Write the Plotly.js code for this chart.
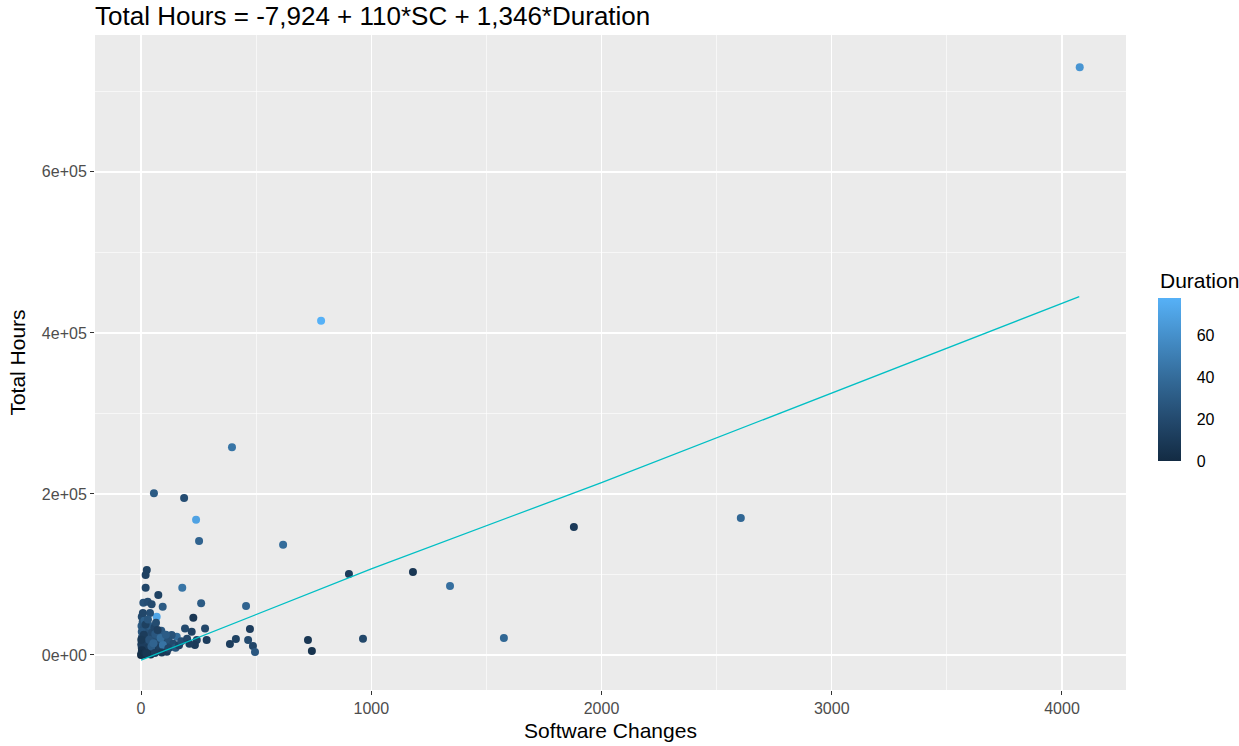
<!DOCTYPE html>
<html>
<head>
<meta charset="utf-8">
<script src="https://cdn.plot.ly/plotly-3.0.1.min.js"></script>
<style>html,body{margin:0;padding:0;background:#fff;}#chart{width:1239px;height:746px;}</style>
</head>
<body>
<div id="chart"></div>
<script>
// Software changes (SC), Total hours, Duration for each project
const softwareChanges = [
  4077, 782, 395, 56, 187, 239, 252, 617, 1880, 2605, 903, 1181, 1342, 1576, 964, 725, 742,
  25, 20, 20, 179, 75, 261, 94, 10, 29, 46, 68, 227, 39, 3, 456, 473, 412, 386, 465, 486, 495,
  191, 278, 220, 155, 133, 242, 285, 234, 104,
  0, 2, 5, 8, 3, 10, 12, 15, 6, 18, 22, 4, 9, 14, 18, 26, 30, 34, 28, 40, 44, 50, 2, 7, 11, 16,
  3, 32, 38, 55, 60, 66, 70, 76, 82, 1, 4, 6, 13, 19, 24, 42, 88, 92, 100, 112, 120, 128, 140,
  150, 165, 175, 200, 210, 48, 58, 65, 20, 12, 1, 36, 45, 54, 62, 72, 85, 95, 108, 118, 30, 8,
  24, 60, 90
];
const totalHours = [
  730000, 415000, 258000, 201000, 195000, 168000, 141500, 137000, 159000, 170000, 100600, 103000, 85700, 21000, 20000, 18600, 5000,
  105600, 99400, 83600, 83600, 74500, 64200, 60000, 65000, 66000, 63000, 47600, 46300, 52000, 47600, 60900, 32300, 19900, 13700, 18600, 11200, 3700,
  33000, 33000, 29000, 22700, 24800, 18600, 18600, 12400, 15000,
  0, 2000, 4500, 1000, 9000, 6000, 12000, 3000, 16000, 8000, 14000, 22000, 27000, 19000, 31000, 23000, 6000, 12000, 9500, 3500, 16000, 8000, 36000, 41000, 33000, 43000,
  29000, 27000, 36000, 20000, 11000, 5000, 15000, 24000, 9000, 13000, 6000, 1500, 500, 2500, 1200, 600, 30000, 18000, 7000, 4000, 19000, 10000, 14000,
  9000, 12000, 17000, 20000, 14000, 28000, 34000, 40000, 38000, 25000, 19000, 19000, 10500, 14500, 26000, 31000, 21000, 12500, 25000, 8000, 44000, 52000,
  2000, 2500, 3000
];
const duration = [
  63, 78, 45, 30, 22, 70, 35, 40, 10, 37, 12, 8, 42, 37, 18, 8, 5,
  15, 15, 18, 45, 15, 30, 30, 25, 22, 20, 72, 8, 22, 20, 35, 12, 15, 12, 20, 18, 28,
  20, 18, 15, 40, 25, 14, 12, 10, 20,
  0, 5, 8, 6, 12, 10, 15, 7, 18, 9, 20, 22, 25, 14, 28, 16, 10, 19, 11, 8, 21, 12, 30, 26, 24, 33,
  27, 23, 30, 22, 14, 9, 18, 26, 13, 12, 4, 3, 2, 5, 4, 3, 28, 20, 16, 10, 24, 18, 20,
  26, 15, 22, 18, 12, 19, 17, 21, 14, 11, 9, 25, 30, 35, 28, 13, 40, 44, 31, 17, 27, 18,
  7, 11, 9
];

// Fitted values of the model (line)
const fitSC = [0, 1000, 2000, 4075];
const fitHours = [-6500, 107000, 214000, 445000];

// Tick labels
const xTickVals = [0, 1000, 2000, 3000, 4000];
const xTickText = ['0', '1000', '2000', '3000', '4000'];
const yTickVals = [0, 200000, 400000, 600000];
const yTickText = ['0e+00', '2e+05', '4e+05', '6e+05'];
const xMinorVals = [500, 1500, 2500, 3500];
const yMinorVals = [100000, 300000, 500000, 700000];
const cbTickVals = [0, 20, 40, 60];
const cbTickText = ['0', '20', '40', '60'];

const FONT = 'Liberation Sans, Arial, sans-serif';
const colorscale = [
  [0, '#132B43'], [0.25, '#23496D'], [0.5, '#336A98'], [0.75, '#448DC7'], [1, '#56B1F7']
];

const points = {
  type: 'scatter', mode: 'markers',
  x: softwareChanges, y: totalHours,
  marker: {
    size: 8, color: duration, colorscale: colorscale, cmin: 0, cmax: 78,
    line: {width: 0},
    showscale: true,
    colorbar: {
      x: 1.031, xanchor: 'left', xref: 'paper',
      y: 0.474, yanchor: 'middle',
      len: 163, lenmode: 'pixels', thickness: 23, thicknessmode: 'pixels',
      tickvals: cbTickVals, ticktext: cbTickText,
      ticks: 'outside', ticklen: 13, tickcolor: 'rgba(0,0,0,0)', tickwidth: 1,
      tickfont: {family: FONT, size: 16, color: '#000'},
      outlinewidth: 0, xpad: 0, ypad: 0
    }
  },
  hoverinfo: 'x+y', showlegend: false
};

const fitLine = {
  type: 'scatter', mode: 'lines',
  x: fitSC, y: fitHours,
  line: {color: '#00BFC4', width: 1.3},
  showlegend: false, hoverinfo: 'skip'
};

const layout = {
  width: 1239, height: 746,
  margin: {l: 95, r: 113, t: 35, b: 56},
  paper_bgcolor: '#ffffff', plot_bgcolor: '#EBEBEB',
  font: {family: FONT},
  showlegend: false,
  title: {
    text: 'Total Hours = -7,924 + 110*SC + 1,346*Duration',
    font: {family: FONT, size: 26, color: '#000'},
    x: 95 / 1239, xref: 'container', xanchor: 'left',
    y: 1 - 16 / 746, yref: 'container', yanchor: 'middle'
  },
  annotations: [{
    text: 'Duration', xref: 'paper', yref: 'paper',
    x: 1.031, y: (690 - 280) / 655, xanchor: 'left', yanchor: 'middle',
    showarrow: false, font: {family: FONT, size: 21, color: '#000'}
  }],
  xaxis: {
    range: [-200, 4278],
    tickmode: 'array', tickvals: xTickVals, ticktext: xTickText,
    ticks: 'outside', ticklen: 4, tickwidth: 1, tickcolor: '#333333',
    tickfont: {family: FONT, size: 16, color: '#4D4D4D'},
    showgrid: true, gridcolor: '#ffffff', gridwidth: 1.3,
    minor: {tickmode: 'array', tickvals: xMinorVals, showgrid: true, gridcolor: '#ffffff', gridwidth: 0.6, ticks: ''},
    zeroline: false, showline: false,
    title: {text: 'Software Changes', font: {family: FONT, size: 21, color: '#000'}, standoff: 7}
  },
  yaxis: {
    range: [-43500, 770000],
    tickmode: 'array', tickvals: yTickVals, ticktext: yTickText,
    ticks: 'outside', ticklen: 4, tickwidth: 1, tickcolor: '#333333',
    tickfont: {family: FONT, size: 16, color: '#4D4D4D'},
    showgrid: true, gridcolor: '#ffffff', gridwidth: 1.3,
    minor: {tickmode: 'array', tickvals: yMinorVals, showgrid: true, gridcolor: '#ffffff', gridwidth: 0.6, ticks: ''},
    zeroline: false, showline: false,
    title: {text: 'Total Hours', font: {family: FONT, size: 21, color: '#000'}, standoff: 10}
  }
};

Plotly.newPlot('chart', [points, fitLine], layout, {displayModeBar: false, staticPlot: true});
</script>
</body>
</html>
